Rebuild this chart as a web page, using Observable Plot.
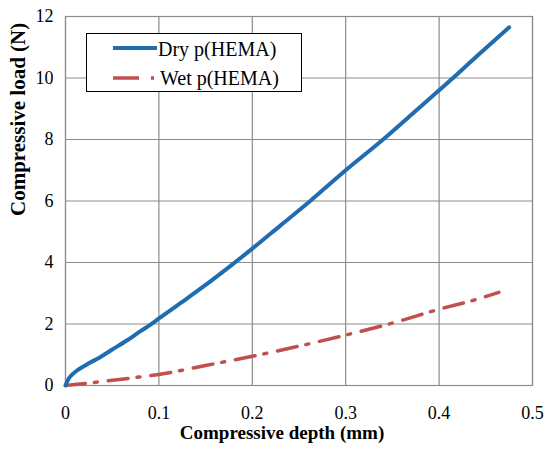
<!DOCTYPE html>
<html>
<head>
<meta charset="utf-8">
<script src="https://cdn.jsdelivr.net/npm/d3@7"></script>
<script src="https://cdn.jsdelivr.net/npm/@observablehq/plot@0.6"></script>
<style>
  body { margin: 0; background: #fff; }
  #wrap { position: relative; width: 544px; height: 450px; }
  #legend { position: absolute; left: 0; top: 0; pointer-events: none; }
</style>
</head>
<body>
<div id="wrap"></div>
<script>
// Data
const dryDepth = [0, 0.003, 0.007, 0.012, 0.016, 0.025, 0.037, 0.05, 0.066, 0.08, 0.091, 0.1, 0.125, 0.15, 0.175, 0.2, 0.23, 0.262, 0.3, 0.34, 0.37, 0.4, 0.413, 0.44, 0.475];
const dryLoad  = [0, 0.2, 0.35, 0.48, 0.56, 0.72, 0.92, 1.17, 1.47, 1.76, 1.98, 2.18, 2.72, 3.27, 3.85, 4.45, 5.2, 6.0, 7.0, 8.0, 8.8, 9.6, 9.95, 10.7, 11.65];
const wetDepth = [0, 0.01, 0.025, 0.05, 0.075, 0.1, 0.15, 0.2, 0.25, 0.3, 0.35, 0.4, 0.44, 0.464];
const wetLoad  = [0, 0.03, 0.08, 0.17, 0.26, 0.36, 0.65, 0.95, 1.28, 1.64, 2.03, 2.48, 2.8, 3.03];
const seriesNames = ["Dry p(HEMA)", "Wet p(HEMA)"];
const xTicks = [0, 0.1, 0.2, 0.3, 0.4, 0.5];
const yTicks = [0, 2, 4, 6, 8, 10, 12];
const xTitle = "Compressive depth (mm)";
const yTitle = "Compressive load (N)";

const dry = dryDepth.map((d, i) => ({x: d, y: dryLoad[i]}));
const wet = wetDepth.map((d, i) => ({x: d, y: wetLoad[i]}));

const blue = "#1f6db0";
const red = "#c0504d";
const gridColor = "#8c8c8c";
const font = "Liberation Serif, DejaVu Serif, serif";

const chart = Plot.plot({
  width: 544,
  height: 450,
  marginLeft: 65,
  marginRight: 12,
  marginTop: 16,
  marginBottom: 65,
  style: {fontFamily: font, fontSize: "18px", color: "#000", background: "#fff"},
  x: {domain: [0, 0.5]},
  y: {domain: [0, 12]},
  marks: [
    Plot.gridX(xTicks, {stroke: gridColor, strokeOpacity: 1, strokeWidth: 1.2}),
    Plot.gridY(yTicks, {stroke: gridColor, strokeOpacity: 1, strokeWidth: 1.2}),
    Plot.frame({stroke: gridColor, strokeWidth: 1.2}),
    Plot.axisX({ticks: xTicks, tickSize: 0, tickPadding: 21, label: null, tickFormat: d => String(d), fontFamily: font}),
    Plot.axisY({ticks: yTicks, tickSize: 0, tickPadding: 12, label: null, fontFamily: font}),
    Plot.line(wet, {x: "x", y: "y", stroke: red, strokeWidth: 3.5, strokeDasharray: "20,9,3,11", curve: "monotone-x"}),
    Plot.line(dry, {x: "x", y: "y", stroke: blue, strokeWidth: 4, curve: "monotone-x"}),
    Plot.text([xTitle], {frameAnchor: "bottom", dx: -17, dy: 53, fontWeight: "bold", fontSize: 19, fill: "#000", fontFamily: font}),
    Plot.text([yTitle], {frameAnchor: "left", dx: -47, dy: 15, rotate: -90, fontWeight: "bold", fontSize: 21, fill: "#000", fontFamily: font})
  ]
});
document.getElementById("wrap").appendChild(chart);

// Legend overlay
const leg = d3.select("#wrap").append("svg")
  .attr("id", "legend").attr("width", 544).attr("height", 450);
leg.append("rect").attr("x", 86.5).attr("y", 33.5).attr("width", 215).attr("height", 58)
  .attr("fill", "#fff").attr("stroke", "#000").attr("stroke-width", 1);
leg.append("line").attr("x1", 113).attr("x2", 157).attr("y1", 48).attr("y2", 48)
  .attr("stroke", blue).attr("stroke-width", 4);
leg.append("line").attr("x1", 113).attr("x2", 157).attr("y1", 78).attr("y2", 78)
  .attr("stroke", red).attr("stroke-width", 3.5).attr("stroke-dasharray", "26,12,3,20");
leg.selectAll("text.lab").data(seriesNames).join("text")
  .attr("class", "lab")
  .attr("x", (d, i) => i === 0 ? 158 : 160)
  .attr("y", (d, i) => i === 0 ? 56 : 85)
  .attr("font-family", font).attr("font-size", 20).attr("fill", "#000")
  .text(d => d);
</script>
</body>
</html>
